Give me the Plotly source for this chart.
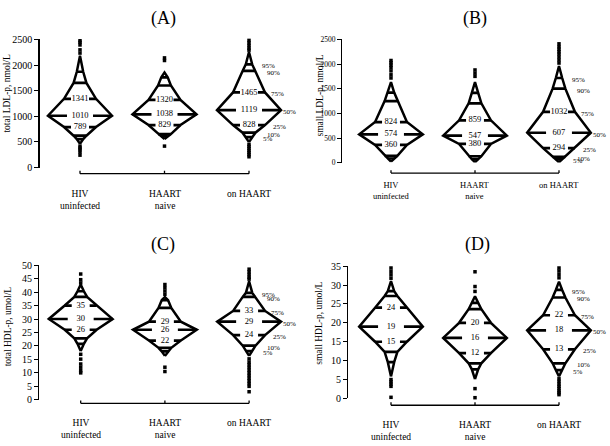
import plotly.graph_objects as go

categories = ["HIV<br>uninfected", "HAART<br>naive", "on HAART"]
pct_labels = ["95%", "90%", "75%", "50%", "25%", "10%", "5%"]

# ---------- Panel A: total LDL-p ----------
A_title = "(A)"
A_ylabel = "total LDL-p, nmol/L"
A_yticks = [0, 500, 1000, 1500, 2000, 2500]
A_low = [461, 556, 495]
A_p5 = [556, 607, 595]
A_p10 = [621, 651, 680]
A_p25 = [789, 829, 828]
A_p50 = [1010, 1038, 1119]
A_p75 = [1341, 1320, 1465]
A_p90 = [1650, 1600, 1885]
A_p95 = [1869, 1760, 2012]
A_high = [2181, 1855, 2253]
A_out = [[2632, 2518, 2473, 2442, 2391, 2296, 2233, 418, 380, 347, 300, 241],
         [2139, 2088, 418],
         [2620, 2580, 2530, 2480, 2430, 2380, 2330, 2290, 450, 410, 370, 330, 290, 250, 210]]

# ---------- Panel B: small LDL-p ----------
B_title = "(B)"
B_ylabel = "small LDL-p, nmol/L"
B_yticks = [0, 500, 1000, 1500, 2000, 2500]
B_low = [20, 10, 10]
B_p5 = [85, 70, 70]
B_p10 = [138, 130, 118]
B_p25 = [360, 380, 294]
B_p50 = [574, 547, 607]
B_p75 = [824, 859, 1032]
B_p90 = [1249, 1204, 1500]
B_p95 = [1421, 1415, 1717]
B_high = [1632, 1632, 1959]
B_out = [[2670, 2072, 2026, 1979, 1927, 1861, 1782, 1717],
         [1880, 1815, 1750],
         [2410, 2350, 2300, 2250, 2200, 2140, 2080, 2020]]

# ---------- Panel C: total HDL-p ----------
C_title = "(C)"
C_ylabel = "total HDL-p, umol/L"
C_yticks = [0, 5, 10, 15, 20, 25, 30, 35, 40, 45, 50]
C_low = [18.1, 16.3, 16.3]
C_p5 = [20.8, 18.0, 18.1]
C_p10 = [22.8, 19.3, 20.1]
C_p25 = [26, 22, 24]
C_p50 = [30, 26, 29]
C_p75 = [35, 29, 33]
C_p90 = [38.2, 34.1, 38.2]
C_p95 = [40.3, 37.0, 39.7]
C_high = [42.8, 38.2, 44.0]
C_out = [[46.7, 44.6, 43.4, 16.9, 15.1, 13.3, 12.1, 10.8, 10.0],
         [42.8, 41.6, 40.4, 39.2, 12.1, 10.5],
         [48.5, 47.5, 46.5, 45.5, 44.8, 15.2, 14, 13, 12, 11, 10, 9, 8, 7, 6, 5, 3]]

# ---------- Panel D: small HDL-p ----------
D_title = "(D)"
D_ylabel = "small HDL-p, umol/L"
D_yticks = [0, 5, 10, 15, 20, 25, 30, 35]
D_low = [5.8, 5.1, 5.8]
D_p5 = [9.6, 7.7, 7.5]
D_p10 = [12.3, 9.3, 9.3]
D_p25 = [15, 12, 13]
D_p50 = [19, 16, 18]
D_p75 = [24, 20, 22]
D_p90 = [27.1, 23.6, 26.7]
D_p95 = [28.4, 25.3, 28.7]
D_high = [31.0, 27.0, 30.9]
D_out = [[34.5, 33.6, 32.7, 31.8, 5.0, 4.4, 3.8, 3.2, 0.3],
         [33.5, 29.6, 28.3, 2.6, 0.2],
         [35.8, 35.2, 34.5, 33.7, 32.8, 31.9, 5.2, 4.5, 3.8, 3.2, 2.6, 2.0, 1.5, 1.0]]

W, H = 610, 446
FONT = "Liberation Serif"
K = 0.758          # half-width per unit of folded percentile (category units)
D50 = 0.225        # median dash length
D25 = 0.083        # quartile dash length

panels = [
    dict(title=A_title, ylabel=A_ylabel, yticks=A_yticks, ymax=2500,
         q=[A_low, A_p5, A_p10, A_p25, A_p50, A_p75, A_p90, A_p95, A_high], out=A_out,
         axis_x=39.5, cat1=80, spacing=84.5, y_top=34.3, y_bot=166, bracket=172.3,
         lab_y=186, title_xy=(163, 13), ytitle_xy=(7.5, 89.5), tick_fs=10, cat_fs=9.5),
    dict(title=B_title, ylabel=B_ylabel, yticks=B_yticks, ymax=2500,
         q=[B_low, B_p5, B_p10, B_p25, B_p50, B_p75, B_p90, B_p95, B_high], out=B_out,
         axis_x=342.3, cat1=391, spacing=84, y_top=34.3, y_bot=161, bracket=171.7,
         lab_y=177, title_xy=(475, 13), ytitle_xy=(320.5, 92.5), tick_fs=7.5, cat_fs=8.5),
    dict(title=C_title, ylabel=C_ylabel, yticks=C_yticks, ymax=50,
         q=[C_low, C_p5, C_p10, C_p25, C_p50, C_p75, C_p90, C_p95, C_high], out=C_out,
         axis_x=39.3, cat1=80.7, spacing=84.2, y_top=266.3, y_bot=404.7, bracket=408.3,
         lab_y=421.5, title_xy=(163, 245), ytitle_xy=(7.5, 329.7), tick_fs=10, cat_fs=9.5),
    dict(title=D_title, ylabel=D_ylabel, yticks=D_yticks, ymax=35,
         q=[D_low, D_p5, D_p10, D_p25, D_p50, D_p75, D_p90, D_p95, D_high], out=D_out,
         axis_x=348.3, cat1=391, spacing=84, y_top=267.3, y_bot=403.3, bracket=410.3,
         lab_y=423, title_xy=(477, 245), ytitle_xy=(319.5, 326), tick_fs=10, cat_fs=9.5),
]

folds = [0, 0.05, 0.10, 0.25, 0.50, 0.25, 0.10, 0.05, 0]
label_xshift = [19, 24, 28, 40, 30, 24, 19]

fig = go.Figure()
shapes = []
annotations = []
layout = {}
X1 = 3.6

for i, P in enumerate(panels):
    n = "" if i == 0 else str(i + 1)
    xa, ya = "x" + n, "y" + n
    x0 = 1 - (P["cat1"] - P["axis_x"]) / P["spacing"]
    dom_x = [P["axis_x"] / W, (P["cat1"] + (X1 - 1) * P["spacing"]) / W]
    dom_y = [(H - P["y_bot"]) / H, (H - P["y_top"]) / H]
    layout["xaxis" + n] = dict(domain=dom_x, range=[x0, X1], anchor=ya, visible=False, fixedrange=True)
    layout["yaxis" + n] = dict(domain=dom_y, range=[0, P["ymax"]], anchor=xa,
                               tickvals=P["yticks"], showline=True, linecolor="black", linewidth=1.2,
                               ticks="outside", ticklen=4, tickcolor="black", tickwidth=1,
                               showgrid=False, zeroline=False, fixedrange=True,
                               tickfont=dict(family=FONT, size=P["tick_fs"], color="black"))

    q = P["q"]
    for g in range(3):
        c = g + 1
        ys = [q[k][g] for k in range(9)]
        xs_r = [c + K * f for f in folds]
        xs_l = [c - K * f for f in folds]
        fig.add_trace(go.Scatter(x=xs_r + xs_l[::-1], y=ys + ys[::-1], xaxis=xa, yaxis=ya,
                                 mode="lines", line=dict(color="black", width=2.5),
                                 hoverinfo="skip", showlegend=False))
        # percentile lines
        lx, ly = [], []
        for k in (1, 2, 6, 7):
            lx += [c - K * folds[k], c + K * folds[k], None]
            ly += [ys[k], ys[k], None]
        for k, dl in ((3, D25), (4, D50), (5, D25)):
            hw = K * folds[k]
            lx += [c - hw, c - hw + dl, None, c + hw - dl, c + hw, None]
            ly += [ys[k], ys[k], None, ys[k], ys[k], None]
        fig.add_trace(go.Scatter(x=lx, y=ly, xaxis=xa, yaxis=ya, mode="lines",
                                 line=dict(color="black", width=2.7),
                                 hoverinfo="skip", showlegend=False))
        # value labels
        fig.add_trace(go.Scatter(x=[c, c, c], y=[ys[3], ys[4], ys[5]], xaxis=xa, yaxis=ya,
                                 mode="text", text=[str(ys[3]), str(ys[4]), str(ys[5])],
                                 textposition="middle center", cliponaxis=False,
                                 textfont=dict(family=FONT, size=8.5, color="black"),
                                 hoverinfo="skip", showlegend=False))
        # outliers
        o = P["out"][g]
        fig.add_trace(go.Scatter(x=[c] * len(o), y=o, xaxis=xa, yaxis=ya, mode="markers",
                                 marker=dict(color="black", size=3.5, symbol="square"),
                                 cliponaxis=False, hoverinfo="skip", showlegend=False))
        # category labels
        annotations.append(dict(x=c, xref=xa, y=(H - P["lab_y"]) / H, yref="paper",
                                text=categories[g], showarrow=False, yanchor="top",
                                font=dict(family=FONT, size=P["cat_fs"], color="black")))

    # percentile labels on third group
    pv = [q[7][2], q[6][2], q[5][2], q[4][2], q[3][2], q[2][2], q[1][2]]
    for lab, yv, xs in zip(pct_labels, pv, label_xshift):
        annotations.append(dict(x=3, xref=xa, y=yv, yref=ya, text=lab, showarrow=False,
                                xshift=xs, yshift=-2, xanchor="center", yanchor="middle",
                                font=dict(family=FONT, size=7, color="black")))

    # x bracket
    fx = lambda v: (v - x0) / (X1 - x0)
    yb = (H - P["bracket"]) / H
    yt = (H - P["bracket"] + 3) / H
    shapes.append(dict(type="line", xref=xa + " domain", yref="paper", x0=fx(1), x1=fx(3), y0=yb, y1=yb,
                       line=dict(color="black", width=1.3)))
    for c in (1, 2, 3):
        shapes.append(dict(type="line", xref=xa + " domain", yref="paper", x0=fx(c), x1=fx(c), y0=yb, y1=yt,
                           line=dict(color="black", width=1.3)))

    # titles
    annotations.append(dict(x=P["title_xy"][0] / W, y=(H - P["title_xy"][1]) / H, xref="paper", yref="paper",
                            text=P["title"], showarrow=False, xanchor="center", yanchor="middle",
                            font=dict(family=FONT, size=18, color="black")))
    annotations.append(dict(x=P["ytitle_xy"][0] / W, y=(H - P["ytitle_xy"][1]) / H, xref="paper", yref="paper",
                            text=P["ylabel"], showarrow=False, textangle=-90, xanchor="center", yanchor="middle",
                            font=dict(family=FONT, size=9.5, color="black")))

fig.update_layout(width=W, height=H, margin=dict(l=0, r=0, t=0, b=0),
                  paper_bgcolor="white", plot_bgcolor="white", hovermode=False,
                  shapes=shapes, annotations=annotations, **layout)
fig.write_html("out.html", config={"displayModeBar": False, "staticPlot": True},
               post_script="document.body.style.margin='0';document.body.style.overflow='hidden';")
